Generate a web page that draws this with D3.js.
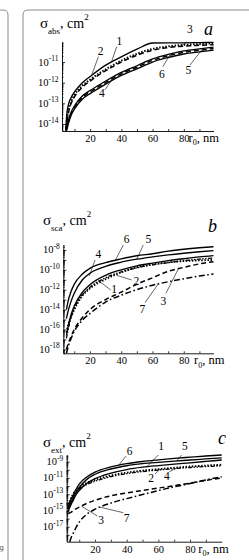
<!DOCTYPE html>
<html>
<head>
<meta charset="utf-8">
<script src="https://d3js.org/d3.v7.min.js"></script>
<style>
body { margin: 0; background: #fff; }
svg { display: block; }
text { font-family: "Liberation Serif", "Times New Roman", serif; fill: #000; }
</style>
</head>
<body>
<svg width="249" height="560"></svg>
<script>
// r0 in nm, cross sections as log10(sigma / cm^2)
var rA = [4.5, 5, 6, 8, 10, 15, 20, 30, 40, 50, 60, 70, 80, 90, 99];
var abs1 = [-14.3, -13.6, -13.1, -12.7, -12.45, -12.0, -11.7, -11.15, -10.75, -10.38, -10.08, -10.07, -10.07, -10.06, -10.05];
var abs2 = [-14.2, -13.85, -13.4, -12.9, -12.6, -12.15, -11.85, -11.35, -10.93, -10.6, -10.36, -10.24, -10.17, -10.13, -10.1];
var abs3 = [-14.25, -13.95, -13.5, -12.98, -12.68, -12.22, -11.92, -11.42, -11.0, -10.67, -10.43, -10.3, -10.23, -10.19, -10.16];
var abs4 = [-14.34, -14.22, -13.92, -13.47, -13.19, -12.72, -12.45, -11.99, -11.57, -11.25, -10.92, -10.7, -10.53, -10.43, -10.35];
var abs5 = [-14.34, -14.3, -14.0, -13.55, -13.27, -12.8, -12.53, -12.07, -11.65, -11.33, -11.0, -10.78, -10.61, -10.51, -10.43];
var abs6 = [-14.3, -14.15, -13.85, -13.4, -13.12, -12.65, -12.38, -11.92, -11.5, -11.18, -10.85, -10.63, -10.46, -10.36, -10.28];

var rB = [5, 6, 8, 10, 15, 20, 30, 40, 50, 60, 70, 80, 90, 99];
var sca1 = [-16.9, -16.1, -14.8, -13.9, -12.55, -11.75, -10.8, -10.2, -9.8, -9.5, -9.28, -9.08, -8.92, -8.8];
var sca2 = [-16.3, -15.6, -14.7, -14.0, -12.65, -11.87, -10.95, -10.25, -9.75, -9.45, -9.25, -9.12, -9.05, -9.0];
var sca3 = [-18.0, -17.5, -16.7, -16.0, -14.85, -14.0, -13.0, -12.25, -11.45, -10.8, -10.15, -9.75, -9.4, -9.18];
var sca4 = [-16.6, -15.8, -14.5, -13.65, -12.3, -11.5, -10.55, -10.0, -9.6, -9.32, -9.08, -8.88, -8.7, -8.57];
var sca5 = [-14.9, -14.2, -13.15, -12.35, -11.05, -10.35, -9.65, -9.23, -8.93, -8.7, -8.5, -8.33, -8.18, -8.07];
var sca6 = [-14.0, -13.2, -12.15, -11.45, -10.45, -9.85, -9.28, -8.9, -8.58, -8.38, -8.12, -7.93, -7.78, -7.67];
var sca7 = [-18.4, -17.8, -16.9, -16.2, -15.1, -14.4, -13.25, -12.55, -12.0, -11.55, -11.2, -10.9, -10.62, -10.42];

var rC = [3, 4, 5, 6, 8, 10, 15, 20, 30, 40, 50, 60, 70, 80, 90, 100];
var ext1 = [-15.15, -14.65, -14.2, -13.85, -13.05, -12.55, -11.65, -11.1, -10.42, -9.97, -9.68, -9.48, -9.3, -9.14, -8.97, -8.8];
var ext2 = [-14.7, -13.9, -13.4, -13.05, -12.5, -12.15, -11.6, -11.25, -10.7, -10.35, -10.1, -9.92, -9.75, -9.6, -9.48, -9.38];
var ext3 = [-15.4, -15.3, -15.2, -15.05, -14.8, -14.6, -14.12, -13.75, -13.2, -12.85, -12.55, -12.25, -11.95, -11.65, -11.3, -11.0];
var ext4 = [-14.85, -14.1, -13.6, -13.25, -12.7, -12.35, -11.8, -11.42, -10.85, -10.48, -10.22, -10.03, -9.86, -9.72, -9.6, -9.5];
var ext5 = [-14.85, -14.4, -14.0, -13.6, -12.8, -12.2, -11.15, -10.55, -9.9, -9.5, -9.25, -9.08, -8.93, -8.8, -8.66, -8.54];
var ext6 = [-14.65, -14.1, -13.6, -13.2, -12.4, -11.75, -10.85, -10.28, -9.65, -9.25, -8.98, -8.78, -8.6, -8.45, -8.3, -8.17];
var ext7 = [null, -18.85, -18.3, -17.9, -17.1, -16.45, -15.45, -14.85, -14.1, -13.55, -13.05, -12.55, -12.1, -11.7, -11.25, -10.85];

var xTicks = [10, 20, 30, 40, 50, 60, 70, 80, 90];
var xTickLabels = [20, 40, 60, 80];
var absTickLabels = [-11, -12, -13, -14];
var scaTickLabels = [-8, -10, -12, -14, -16, -18];
var extTickLabels = [-9, -11, -13, -15, -17];

// curve labels: text, label (r0, log sigma), leader start, leader end
var notesA = [
  ["1", 38.8, -10.18, 37.0, -10.26, 33.8, -10.97],
  ["2", 26.8, -10.66, 25.3, -10.74, 21.0, -11.63],
  ["3", 83.9, -9.61, 81.8, -9.69, 78.6, -10.2],
  ["4", 27.6, -12.69, 29.5, -12.35, 33.8, -11.87],
  ["5", 82.9, -11.58, 83.9, -11.15, 91.4, -10.42],
  ["6", 66.0, -11.79, 66.5, -11.23, 71.1, -10.65]
];
var notesB = [
  ["6", 43.5, -7.3, 41.4, -7.5, 36.0, -9.1],
  ["5", 57.3, -7.26, 54.1, -7.5, 49.9, -8.95],
  ["4", 25.4, -8.81, 23.3, -9.01, 19.6, -10.6],
  ["2", 49.7, -11.52, 46.7, -11.02, 37.1, -10.55],
  ["1", 35.5, -12.36, 33.3, -12.03, 26.5, -11.2],
  ["7", 53.6, -14.38, 55.2, -13.31, 63.7, -11.42],
  ["3", 66.9, -13.54, 68.6, -12.36, 76.5, -9.9]
];
var notesC = [
  ["6", 41.9, -8.18, 39.6, -8.3, 34.7, -9.5],
  ["1", 61.8, -7.56, 60.0, -7.56, 52.6, -9.63],
  ["5", 76.8, -7.56, 74.7, -7.56, 71.6, -8.9],
  ["2", 55.5, -11.46, 57.9, -10.51, 61.0, -9.95],
  ["4", 65.3, -11.25, 66.9, -10.23, 71.6, -9.8],
  ["3", 23.9, -16.67, 21.4, -15.68, 11.6, -14.5],
  ["7", 40.0, -16.39, 37.9, -15.28, 23.1, -14.6]
];

var styles = {
  solid: { dash: null, w: 1.35 },
  dotted: { dash: "1.5,1.6", w: 1.9 },
  dashed: { dash: "5,3", w: 1.5 },
  dashdot: { dash: "6,2.5,1.6,2.5", w: 1.5 },
  dashdotdot: { dash: "4,1.5,1.4,1.5,1.4,1.5", w: 1.3 }
};

var panels = [
  { r: rA, series: [[abs1, "solid"], [abs2, "dotted"], [abs3, "dashed"], [abs4, "dashed"], [abs5, "solid"], [abs6, "solid"]],
    xDom: [2, 99], xRange: [62, 213.5], yDom: [-14.34, -10.03], yRange: [131, 42],
    tickLabels: absTickLabels, sub: "abs", title: [40, 28], letter: "a", letterPos: [204, 35], rx: 188.5, notes: notesA },
  { r: rB, series: [[sca1, "dashdotdot"], [sca2, "dotted"], [sca3, "dashed"], [sca4, "solid"], [sca5, "solid"], [sca6, "solid"], [sca7, "dashdot"]],
    xDom: [3, 99], xRange: [63.3, 213.5], yDom: [-18.4, -7.5], yRange: [353.3, 245],
    tickLabels: scaTickLabels, sub: "sca", title: [43, 225], letter: "b", letterPos: [208, 232], rx: 194, notes: notesB },
  { r: rC, series: [[ext1, "solid"], [ext2, "dotted"], [ext3, "dashed"], [ext4, "dashdotdot"], [ext5, "solid"], [ext6, "solid"], [ext7, "dashdot"]],
    xDom: [2.1, 100], xRange: [66.7, 221.7], yDom: [-18.85, -8.18], yRange: [541.7, 455],
    tickLabels: extTickLabels, sub: "ext", title: [43, 447], letter: "c", letterPos: [218, 444], rx: 198.3, notes: notesC }
];

var svg = d3.select("svg");
var p10 = function(e) { return Math.pow(10, e); };

// frames of the figure
svg.append("path").attr("d", "M0,10H3Q8,10 8,15V560").attr("fill", "none").attr("stroke", "#8a8a8a").attr("stroke-width", 1);
svg.append("path").attr("d", "M23,560V15Q23,10 28,10H249").attr("fill", "none").attr("stroke", "#8a8a8a").attr("stroke-width", 1);
svg.append("text").attr("x", -0.5).attr("y", 550).attr("font-size", 7).style("font-family", "'DejaVu Sans', sans-serif").style("fill", "#555").text("g");

panels.forEach(function(p) {
  var x = d3.scaleLinear().domain(p.xDom).range(p.xRange);
  var y = d3.scaleLog().domain(p.yDom.map(p10)).range(p.yRange).clamp(true);
  var x0 = p.xRange[0], yB = p.yRange[0];
  var g = svg.append("g");

  // curves
  var line = d3.line()
    .defined(function(d) { return d[1] != null; })
    .x(function(d) { return x(d[0]); })
    .y(function(d) { return y(p10(d[1])); })
    .curve(d3.curveMonotoneX);
  p.series.forEach(function(s) {
    var st = styles[s[1]];
    g.append("path")
      .datum(p.r.map(function(r, i) { return [r, s[0][i]]; }))
      .attr("d", line)
      .attr("fill", "none")
      .attr("stroke", "#000")
      .attr("stroke-width", st.w)
      .attr("stroke-dasharray", st.dash);
  });

  // y axis: decades and minor ticks, inward
  var lo = Math.ceil(p.yDom[0]), hi = Math.floor(p.yDom[1]);
  var major = d3.range(lo, hi + 1).map(p10);
  var minor = [];
  d3.range(Math.floor(p.yDom[0]), hi + 1).forEach(function(e) {
    for (var k = 2; k < 10; k++) {
      var v = k * p10(e);
      if (v >= p10(p.yDom[0]) && v <= p10(p.yDom[1])) minor.push(v);
    }
  });
  g.append("g").attr("transform", "translate(" + x0 + ",0)")
    .call(d3.axisLeft(y).tickValues(major).tickSizeInner(-3).tickSizeOuter(0).tickFormat(""));
  g.append("g").attr("transform", "translate(" + x0 + ",0)")
    .call(d3.axisLeft(y).tickValues(minor).tickSizeInner(-1.5).tickSizeOuter(0).tickFormat(""))
    .select(".domain").remove();

  p.tickLabels.forEach(function(e) {
    var t = g.append("text").attr("x", x0 - 3.5).attr("y", y(p10(e)) + 3.5).attr("text-anchor", "end");
    t.append("tspan").attr("font-size", 10.5).text("10");
    t.append("tspan").attr("font-size", 7.5).attr("dy", -4.5).text(String(e));
  });

  // x axis
  var xa = g.append("g").attr("transform", "translate(0," + yB + ")")
    .call(d3.axisBottom(x).tickValues(xTicks).tickSizeInner(-2).tickSizeOuter(0).tickPadding(3.7)
      .tickFormat(function(d) { return xTickLabels.indexOf(d) >= 0 ? d : ""; }));
  xa.selectAll("text").attr("font-size", 10.5).style("font-family", "'Liberation Serif', serif");
  g.selectAll(".domain").attr("stroke-width", 0.9);
  g.selectAll(".tick line").attr("stroke-width", 0.8);

  var xl = g.append("text").attr("x", p.rx).attr("y", yB + 10.8);
  xl.append("tspan").attr("font-size", 12.5).text("r");
  xl.append("tspan").attr("font-size", 8).attr("dy", 3.5).text("0");
  xl.append("tspan").attr("font-size", 12.5).attr("dy", -3.5).text(", nm");

  // title
  var tt = g.append("text").attr("x", p.title[0]).attr("y", p.title[1]);
  tt.append("tspan").attr("font-size", 15).text("σ");
  tt.append("tspan").attr("font-size", 9).attr("dy", 6).text(p.sub);
  tt.append("tspan").attr("font-size", 14).attr("dy", -6).text(", cm");
  tt.append("tspan").attr("font-size", 9).attr("dy", -8).text("2");

  g.append("text").attr("x", p.letterPos[0]).attr("y", p.letterPos[1])
    .attr("font-size", 18).attr("font-style", "italic").text(p.letter);

  // curve numbers with leader lines
  p.notes.forEach(function(n) {
    g.append("line")
      .attr("x1", x(n[3])).attr("y1", y(p10(n[4])))
      .attr("x2", x(n[5])).attr("y2", y(p10(n[6])))
      .attr("stroke", "#000").attr("stroke-width", 0.6);
    g.append("text").attr("x", x(n[1])).attr("y", y.copy().clamp(false)(p10(n[2])))
      .attr("text-anchor", "middle").attr("font-size", 11.5).text(n[0]);
  });
});
</script>
</body>
</html>
